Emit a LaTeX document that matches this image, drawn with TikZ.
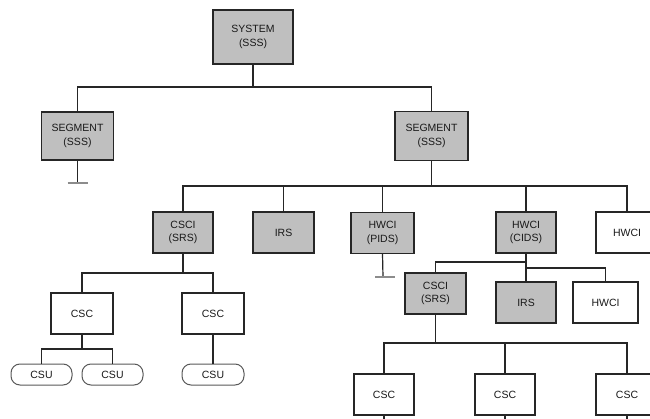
\documentclass[tikz,border=0pt]{standalone}
\usepackage{fontspec}
\setmainfont{Liberation Sans}
\begin{document}
\begin{tikzpicture}[x=1pt,y=-1pt,
  every node/.style={inner sep=0pt,outer sep=0pt,align=center,font=\fontsize{10.5}{13.5}\selectfont,text=black!90},
  gbox/.style={draw=black!85,line width=1.2pt,fill=black!25,minimum width=60pt,minimum height=41pt},
  wbox/.style={draw=black!85,line width=1.2pt,fill=white,minimum width=60pt,minimum height=41pt},
  ubox/.style={draw=black!65,line width=1pt,rounded corners=9pt,minimum width=61pt,minimum height=21pt},
  link/.style={draw=black!85,line width=1.2pt},
  tail/.style={draw=black!45,line width=1.2pt}]
\clip (0,0) rectangle (650,419);
\fill[white] (0,0) rectangle (650,419);
% level 1
\node[gbox,minimum width=80pt,minimum height=54pt] (sys) at (253,37) {SYSTEM\\(SSS)};
% level 2
\node[gbox,minimum width=72pt,minimum height=48pt] (seg1) at (77.5,136) {SEGMENT\\(SSS)};
\node[gbox,minimum width=73pt,minimum height=49pt] (seg2) at (431.5,136) {SEGMENT\\(SSS)};
% level 3
\node[gbox] (csci) at (183,232.5) {CSCI\\(SRS)};
\node[gbox,minimum width=61pt] (irs) at (283.5,232.5) {IRS};
\node[gbox,minimum width=63pt] (pids) at (382.5,233) {HWCI\\(PIDS)};
\node[gbox] (cids) at (526,232.5) {HWCI\\(CIDS)};
\node[wbox,minimum width=62pt] (hw) at (627,232.5) {HWCI};
% level 4 left
\node[wbox,minimum width=62pt] (csc1) at (82,313.5) {CSC};
\node[wbox,minimum width=62pt] (csc2) at (213,313.5) {CSC};
\node[ubox] (csu1) at (41.5,374.5) {CSU};
\node[ubox] (csu2) at (112.5,374.5) {CSU};
\node[ubox,minimum width=62pt] (csu3) at (213,374.5) {CSU};
% level 4 right
\node[gbox,minimum width=61pt] (csci2) at (435.5,293.5) {CSCI\\(SRS)};
\node[gbox] (irs2) at (526,302.5) {IRS};
\node[wbox,minimum width=65pt] (hw2) at (605.5,302.5) {HWCI};
% level 5
\node[wbox] (csc3) at (384,394.5) {CSC};
\node[wbox] (csc4) at (505,394.5) {CSC};
\node[wbox,minimum width=62pt] (csc5) at (627,394.5) {CSC};
% bus coordinates
\coordinate (b1) at (253,87);
\coordinate (b2) at (431.5,186);
\coordinate (b3) at (183,273);
\coordinate (b4) at (526,262);
\coordinate (b5) at (526,268);
\coordinate (b6) at (82,349);
\coordinate (b7) at (435.5,343);
\coordinate (t1) at (77.5,183);
\coordinate (t2) at (383,277);
\coordinate (e1) at (384,422);
\coordinate (e2) at (505,422);
\coordinate (e3) at (627,422);
% connectors
\draw[link] (sys.south) -- (b1);
\draw[link] (seg1.north) |- (b1) -| (seg2.north);
\draw[link] (seg2.south) -- (b2);
\draw[link] (csci.north) |- (b2) -| (hw.north);
\draw[link] (irs.north) -- (irs.north |- b2);
\draw[link] (pids.north) -- (pids.north |- b2);
\draw[link] (cids.north) -- (cids.north |- b2);
\draw[link] (csci.south) -- (b3);
\draw[link] (csc1.north) |- (b3) -| (csc2.north);
\draw[link] (csc1.south) -- (b6);
\draw[link] (csu1.north) |- (b6) -| (csu2.north);
\draw[link] (csc2.south) -- (csu3.north);
\draw[link] (seg1.south) -- (t1);
\draw[tail] ([xshift=-10pt]t1) -- ([xshift=10pt]t1);
\draw[link] (pids.south) -- (t2);
\draw[tail] ([xshift=-8pt]t2) -- ([xshift=12pt]t2);
\draw[link] (cids.south) -- (irs2.north);
\draw[link] (b4) -| (csci2.north);
\draw[link] (b5) -| (hw2.north);
\draw[link] (csci2.south) -- (b7);
\draw[link] (csc3.north) |- (b7) -| (csc5.north);
\draw[link] (csc4.north) -- (csc4.north |- b7);
\draw[link] (csc3.south) -- (e1);
\draw[link] (csc4.south) -- (e2);
\draw[link] (csc5.south) -- (e3);
\end{tikzpicture}
\end{document}
